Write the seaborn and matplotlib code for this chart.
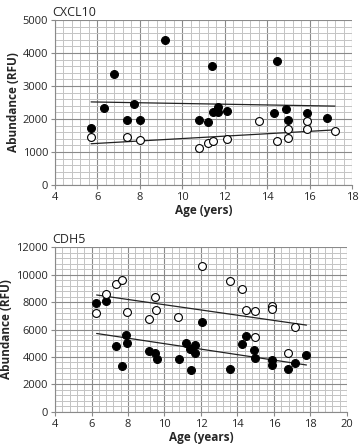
import numpy as np
import pandas as pd
import matplotlib.pyplot as plt
import seaborn as sns
from matplotlib.ticker import MultipleLocator

# CXCL10 panel
cxcl_fill_age = [5.7, 6.3, 6.8, 7.4, 7.7, 8.0, 9.2, 10.8, 11.2, 11.4, 11.45, 11.7, 11.7,
                 12.1, 14.3, 14.47, 14.9, 15.0, 15.9, 16.8]
cxcl_fill_val = [1730, 2330, 3350, 1960, 2450, 1960, 4385, 1960, 1920, 3595, 2215, 2375, 2210,
                 2245, 2195, 3765, 2315, 1960, 2195, 2030]
cxcl_open_age = [5.7, 7.4, 8.0, 10.8, 11.2, 11.45, 12.1, 13.6, 14.47, 15.0, 15.0, 15.9, 15.9, 17.2]
cxcl_open_val = [1440, 1440, 1350, 1125, 1270, 1330, 1390, 1930, 1330, 1705, 1430, 1930, 1705, 1645]
cxcl_fit_age = [5.7, 17.2]
cxcl_fill_fit = [2517, 2390]
cxcl_open_fit = [1250, 1670]

# CDH5 panel
cdh_fill_age = [6.25, 6.8, 7.35, 7.65, 7.87, 7.97, 9.17, 9.47, 9.57, 10.77, 11.16, 11.4, 11.43,
                11.66, 11.66, 12.05, 13.57, 14.27, 14.47, 14.88, 14.98, 15.87, 15.87, 16.76,
                17.17, 17.78]
cdh_fill_val = [7950, 8050, 4770, 3370, 5630, 5030, 4400, 4270, 3880, 3840, 5040, 4550, 3040,
                4900, 4260, 6540, 3100, 4910, 5490, 4500, 3920, 3750, 3410, 3130, 3540, 4150]
cdh_open_age = [6.27, 6.78, 7.36, 7.67, 7.97, 9.16, 9.47, 9.56, 10.76, 12.05, 13.57, 14.27,
                14.48, 14.97, 15.88, 15.88, 14.97, 16.76, 17.17]
cdh_open_val = [7170, 8620, 9340, 9610, 7280, 6740, 8400, 7450, 6930, 10620, 9560, 8930,
                7420, 7370, 7700, 7470, 5480, 4250, 6200]
cdh_fit_age = [6.28, 17.78]
cdh_fill_fit = [5710, 3410]
cdh_open_fit = [8520, 6320]

sns.set_style("white")
plt.rcParams['font.family'] = ['Open Sans', 'DejaVu Sans']

fig = plt.figure(figsize=(3.6, 4.48), dpi=100)
ax1 = fig.add_axes([0.1528, 0.5871, 0.825, 0.3683])
ax2 = fig.add_axes([0.1528, 0.0810, 0.811, 0.3670])


def draw_panel(ax, fa, fv, oa, ov, fit_x, fit_f, fit_o, xlim, ylim, xmaj, ymaj, title, xlabel):
    ax.set_xlim(*xlim)
    ax.set_ylim(*ylim)
    ax.xaxis.set_major_locator(MultipleLocator(xmaj))
    ax.xaxis.set_minor_locator(MultipleLocator(xmaj / 5))
    ax.yaxis.set_major_locator(MultipleLocator(ymaj))
    ax.yaxis.set_minor_locator(MultipleLocator(ymaj / 5))
    ax.grid(which='minor', color='#c4c4c4', lw=0.7)
    ax.grid(which='major', color='#8a8a8a', lw=0.8)
    ax.set_axisbelow(True)

    sns.lineplot(x=fit_x, y=fit_f, ax=ax, color='#222222', lw=0.9, zorder=3)
    sns.lineplot(x=fit_x, y=fit_o, ax=ax, color='#222222', lw=0.9, zorder=3)
    sns.scatterplot(x=fa, y=fv, ax=ax, color='black', edgecolor='black', s=32, lw=0.8, zorder=4)
    sns.scatterplot(x=oa, y=ov, ax=ax, color='white', edgecolor='black', s=32, lw=0.8, zorder=4)

    for side in ['top', 'right']:
        ax.spines[side].set_visible(False)
    for side in ['left', 'bottom']:
        ax.spines[side].set_color('#8a8a8a')
        ax.spines[side].set_linewidth(0.8)
    ax.tick_params(which='major', direction='out', length=3, width=0.8, color='#8a8a8a',
                   labelsize=8, pad=2, left=True, bottom=True)
    ax.tick_params(which='minor', length=0)
    ax.set_xlabel(xlabel, fontsize=8.5, fontweight='bold', labelpad=1)
    ax.set_ylabel('Abundance (RFU)', fontsize=8.5, fontweight='bold', labelpad=2)
    ax.set_title(title, fontsize=9, loc='left', x=-0.01, pad=3)


draw_panel(ax1, cxcl_fill_age, cxcl_fill_val, cxcl_open_age, cxcl_open_val,
           cxcl_fit_age, cxcl_fill_fit, cxcl_open_fit, (4, 18), (0, 5000), 2, 1000,
           'CXCL10', 'Age (yers)')
draw_panel(ax2, cdh_fill_age, cdh_fill_val, cdh_open_age, cdh_open_val,
           cdh_fit_age, cdh_fill_fit, cdh_open_fit, (4, 20), (0, 12000), 2, 2000,
           'CDH5', 'Age (years)')

fig.savefig('out.png', dpi=100)
